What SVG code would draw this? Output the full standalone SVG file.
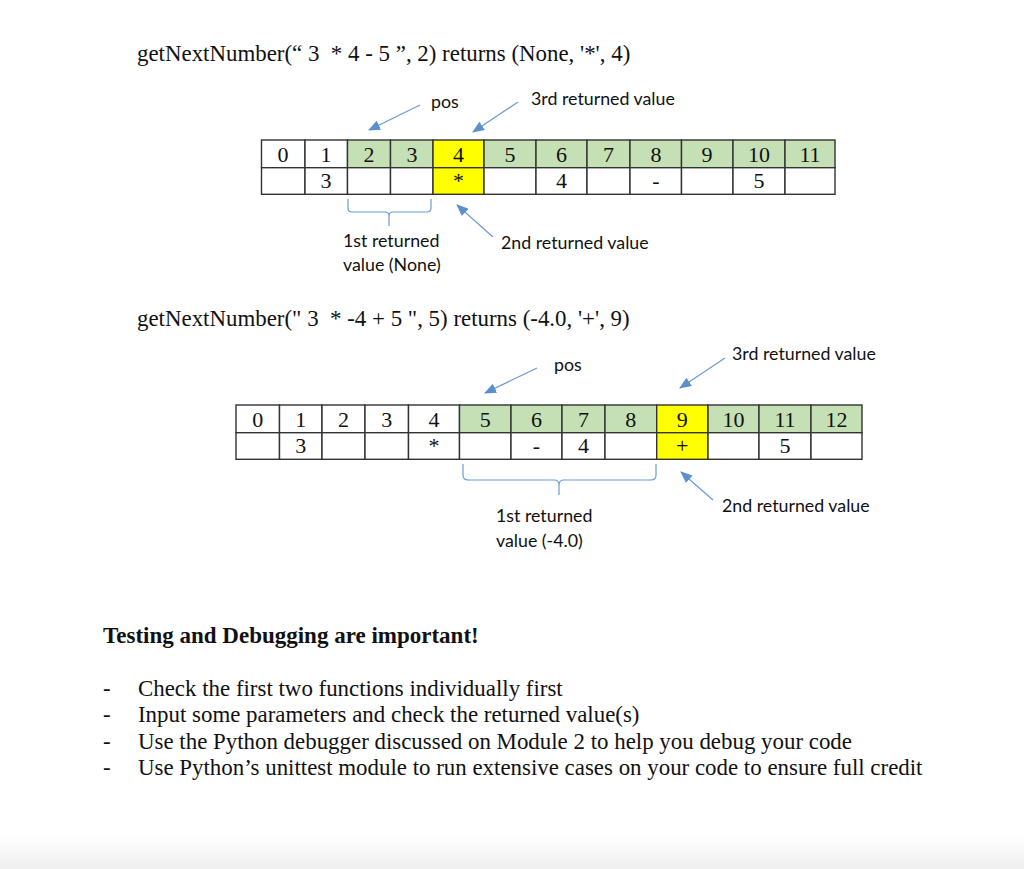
<svg xmlns="http://www.w3.org/2000/svg" width="1024" height="869" viewBox="0 0 1024 869">
<defs>
<marker id="ah" viewBox="0 0 12 10" refX="11" refY="5" markerWidth="12" markerHeight="10" markerUnits="userSpaceOnUse" orient="auto">
<path d="M0,0 L12,5 L0,10 Z" fill="#5B8FD0"/>
</marker>
<linearGradient id="shade" x1="0" y1="0" x2="0" y2="1">
<stop offset="0" stop-color="#ffffff"/>
<stop offset="1" stop-color="#eeeeee"/>
</linearGradient>
</defs>
<style>
.serif{font-family:"Liberation Serif","Times New Roman",serif;fill:#111;white-space:pre;}
.title{font-size:22.9px;}
.num{font-size:22px;text-anchor:middle;}
.lbl{font-family:Lato,"Open Sans","Liberation Sans",sans-serif;font-size:17.8px;fill:#111;}
.c{stroke:#333;stroke-width:1.4;}
.w{fill:#ffffff;}
.g{fill:#C5E0B4;}
.y{fill:#FFFF00;}
.arr{stroke:#6A9AD8;stroke-width:1.2;fill:none;marker-end:url(#ah);}
.br{stroke:#6A9AD8;stroke-width:1.2;fill:none;}
.bold{font-weight:bold;font-size:23px;}
.bul{font-size:22.9px;}
</style>
<rect x="0" y="0" width="1024" height="869" fill="#ffffff"/>
<rect x="0" y="835" width="1024" height="34" fill="url(#shade)"/>

<g id="title1"><text class="serif title" x="137" y="61" xml:space="preserve">getNextNumber(“ 3  * 4 - 5 ”, 2) returns (None, '*', 4)</text></g>

<g id="table1">
<rect class="c w" x="261.5" y="140" width="43.5" height="27.7"/>
<rect class="c w" x="305" y="140" width="42.5" height="27.7"/>
<rect class="c g" x="347.5" y="140" width="43" height="27.7"/>
<rect class="c g" x="390.5" y="140" width="42.5" height="27.7"/>
<rect class="c y" x="433" y="140" width="51" height="27.7"/>
<rect class="c g" x="484" y="140" width="52" height="27.7"/>
<rect class="c g" x="536" y="140" width="51" height="27.7"/>
<rect class="c g" x="587" y="140" width="43" height="27.7"/>
<rect class="c g" x="630" y="140" width="51.5" height="27.7"/>
<rect class="c g" x="681.5" y="140" width="51.5" height="27.7"/>
<rect class="c g" x="733" y="140" width="52" height="27.7"/>
<rect class="c g" x="785" y="140" width="50" height="27.7"/>
<rect class="c w" x="261.5" y="167.7" width="43.5" height="26.6"/>
<rect class="c w" x="305" y="167.7" width="42.5" height="26.6"/>
<rect class="c w" x="347.5" y="167.7" width="43" height="26.6"/>
<rect class="c w" x="390.5" y="167.7" width="42.5" height="26.6"/>
<rect class="c y" x="433" y="167.7" width="51" height="26.6"/>
<rect class="c w" x="484" y="167.7" width="52" height="26.6"/>
<rect class="c w" x="536" y="167.7" width="51" height="26.6"/>
<rect class="c w" x="587" y="167.7" width="43" height="26.6"/>
<rect class="c w" x="630" y="167.7" width="51.5" height="26.6"/>
<rect class="c w" x="681.5" y="167.7" width="51.5" height="26.6"/>
<rect class="c w" x="733" y="167.7" width="52" height="26.6"/>
<rect class="c w" x="785" y="167.7" width="50" height="26.6"/>
<g class="serif num">
<text x="283" y="162">0</text><text x="326" y="162">1</text><text x="369" y="162">2</text><text x="412" y="162">3</text>
<text x="458.5" y="162">4</text><text x="510" y="162">5</text><text x="561.5" y="162">6</text><text x="608.5" y="162">7</text>
<text x="656" y="162">8</text><text x="707" y="162">9</text><text x="759" y="162">10</text><text x="810" y="162">11</text>
<text x="326" y="188">3</text><text x="458.5" y="188">*</text><text x="561.5" y="188">4</text><text x="656" y="188">-</text><text x="759" y="188">5</text>
</g>
</g>

<g id="labels1">
<text class="lbl" x="431" y="108">pos</text>
<text class="lbl" x="531" y="105">3rd returned value</text>
<text class="lbl" x="343" y="247">1st returned</text>
<text class="lbl" x="343" y="271">value (None)</text>
<text class="lbl" x="501" y="249">2nd returned value</text>
</g>

<g id="title2"><text class="serif title" x="137" y="326" xml:space="preserve">getNextNumber(" 3  * -4 + 5 ", 5) returns (-4.0, '+', 9)</text></g>

<g id="table2">
<rect class="c w" x="236" y="405" width="43.5" height="27.7"/>
<rect class="c w" x="279.5" y="405" width="42.5" height="27.7"/>
<rect class="c w" x="322" y="405" width="43" height="27.7"/>
<rect class="c w" x="365" y="405" width="43.5" height="27.7"/>
<rect class="c w" x="408.5" y="405" width="51" height="27.7"/>
<rect class="c g" x="459.5" y="405" width="51.5" height="27.7"/>
<rect class="c g" x="511" y="405" width="51" height="27.7"/>
<rect class="c g" x="562" y="405" width="43" height="27.7"/>
<rect class="c g" x="605" y="405" width="51.7" height="27.7"/>
<rect class="c y" x="656.7" y="405" width="51.3" height="27.7"/>
<rect class="c g" x="708" y="405" width="51" height="27.7"/>
<rect class="c g" x="759" y="405" width="52" height="27.7"/>
<rect class="c g" x="811" y="405" width="51" height="27.7"/>
<rect class="c w" x="236" y="432.7" width="43.5" height="26.6"/>
<rect class="c w" x="279.5" y="432.7" width="42.5" height="26.6"/>
<rect class="c w" x="322" y="432.7" width="43" height="26.6"/>
<rect class="c w" x="365" y="432.7" width="43.5" height="26.6"/>
<rect class="c w" x="408.5" y="432.7" width="51" height="26.6"/>
<rect class="c w" x="459.5" y="432.7" width="51.5" height="26.6"/>
<rect class="c w" x="511" y="432.7" width="51" height="26.6"/>
<rect class="c w" x="562" y="432.7" width="43" height="26.6"/>
<rect class="c w" x="605" y="432.7" width="51.7" height="26.6"/>
<rect class="c y" x="656.7" y="432.7" width="51.3" height="26.6"/>
<rect class="c w" x="708" y="432.7" width="51" height="26.6"/>
<rect class="c w" x="759" y="432.7" width="52" height="26.6"/>
<rect class="c w" x="811" y="432.7" width="51" height="26.6"/>
<g class="serif num">
<text x="257.7" y="427">0</text><text x="300.7" y="427">1</text><text x="343.5" y="427">2</text><text x="386.7" y="427">3</text>
<text x="434" y="427">4</text><text x="485.2" y="427">5</text><text x="536.5" y="427">6</text><text x="583.5" y="427">7</text>
<text x="630.8" y="427">8</text><text x="682.3" y="427">9</text><text x="733.5" y="427">10</text><text x="785" y="427">11</text><text x="836.5" y="427">12</text>
<text x="300.7" y="453">3</text><text x="434" y="453">*</text><text x="536.5" y="453">-</text><text x="583.5" y="453">4</text><text x="682.3" y="453">+</text><text x="785" y="453">5</text>
</g>
</g>

<g id="labels2">
<text class="lbl" x="554" y="371">pos</text>
<text class="lbl" x="732" y="360">3rd returned value</text>
<text class="lbl" x="722" y="512">2nd returned value</text>
<text class="lbl" x="496" y="522">1st returned</text>
<text class="lbl" x="496" y="547">value (-4.0)</text>
</g>

<g id="connectors">
<line class="arr" x1="420" y1="105" x2="369" y2="130"/>
<line class="arr" x1="518" y1="102" x2="473" y2="132"/>
<line class="arr" x1="493" y1="237" x2="457" y2="205"/>
<path class="br" d="M348,199 L348,208 Q348,212 352,212 L385,212 Q389,212 389,216 L389,226 M389,216 Q389,212 393,212 L427,212 Q431,212 431,208 L431,199"/>
<line class="arr" x1="537" y1="368" x2="485" y2="393"/>
<line class="arr" x1="725" y1="358" x2="680" y2="388"/>
<line class="arr" x1="713" y1="500" x2="681" y2="472"/>
<path class="br" d="M463,464 L463,475 Q463,480 468,480 L554,480 Q559,480 559,485 L559,495 M559,485 Q559,480 564,480 L651,480 Q656,480 656,475 L656,464"/>
</g>

<g id="notes">
<text class="serif bold" x="103" y="643">Testing and Debugging are important!</text>
<text class="serif bul" x="103" y="696">-</text><text class="serif bul" x="138" y="696">Check the first two functions individually first</text>
<text class="serif bul" x="103" y="722">-</text><text class="serif bul" x="138" y="722">Input some parameters and check the returned value(s)</text>
<text class="serif bul" x="103" y="749">-</text><text class="serif bul" x="138" y="749">Use the Python debugger discussed on Module 2 to help you debug your code</text>
<text class="serif bul" x="103" y="775">-</text><text class="serif bul" x="138" y="775">Use Python’s unittest module to run extensive cases on your code to ensure full credit</text>
</g>
</svg>
